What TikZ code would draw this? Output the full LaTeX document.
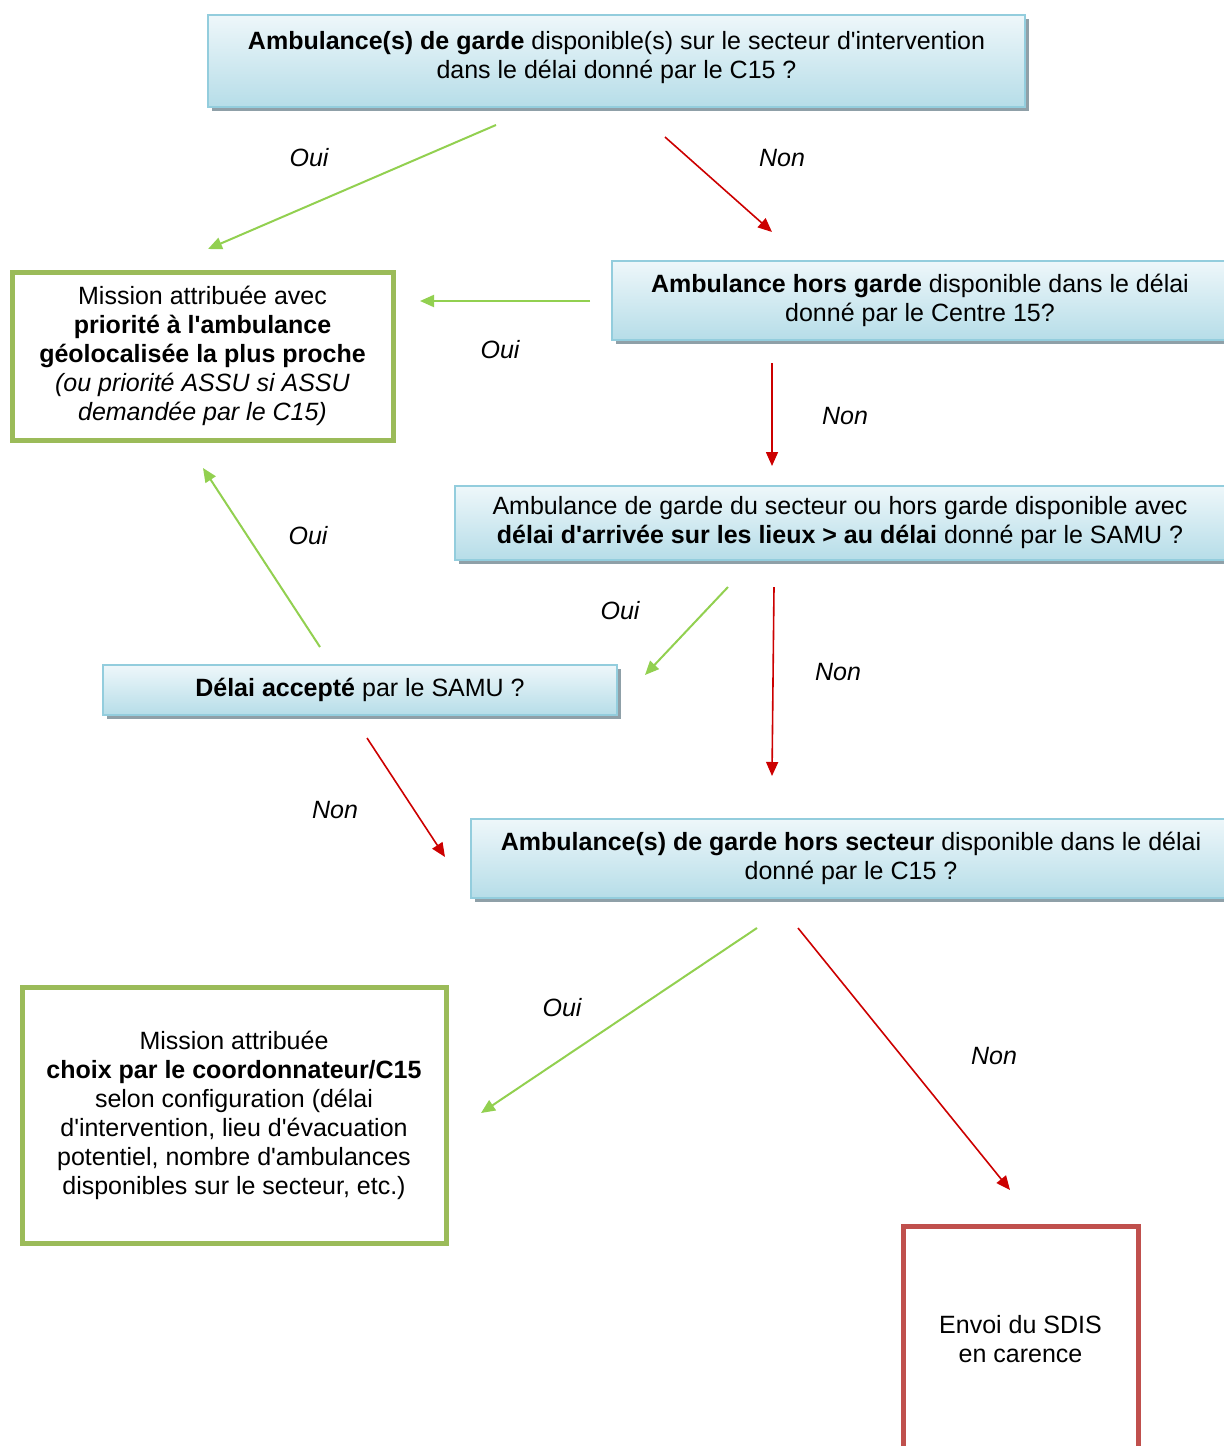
\documentclass[tikz,border=0pt]{standalone}
\usepackage{fontspec}
\setmainfont[Ligatures=TeXOff]{Liberation Sans}
\usetikzlibrary{arrows.meta,shadows}
\definecolor{boxtop}{HTML}{EEF7FA}
\definecolor{boxbot}{HTML}{B6DDE8}
\definecolor{boxline}{HTML}{93CDDD}
\definecolor{boxshadow}{HTML}{8FA0A8}
\definecolor{okgreen}{HTML}{9BBB59}
\definecolor{arrgreen}{HTML}{92D050}
\definecolor{arrred}{HTML}{CC0000}
\definecolor{endred}{HTML}{C0504D}
\begin{document}
\begin{tikzpicture}[x=0.5pt,y=-0.5pt,
  every node/.style={font=\fontsize{12.5}{14.5}\selectfont, align=center, inner sep=0pt},
  qbox/.style={draw=boxline, line width=1pt, top color=boxtop, bottom color=boxbot,
    drop shadow={shadow xshift=2pt, shadow yshift=-2pt, fill=boxshadow, opacity=1}},
  greenbox/.style={draw=okgreen, line width=2.5pt, fill=white},
  redbox/.style={draw=endred, line width=2.5pt, fill=white},
  yesarrow/.style={draw=arrgreen, line width=1pt, -{Triangle[length=7pt,width=6pt]}},
  noarrow/.style={draw=arrred, line width=0.8pt, -{Triangle[length=7pt,width=6pt]}},
  lbl/.style={font=\fontsize{12.5}{14.5}\selectfont\itshape}
]
\useasboundingbox (0,0) rectangle (1224,1446);
\clip (0,0) rectangle (1224,1446);

% boxes
\node[qbox, minimum width=408.5pt, minimum height=46pt, text depth=6.5pt] (b1) at (616.5,61)
  {\textbf{Ambulance(s) de garde} disponible(s) sur le secteur d'intervention\\dans le délai donné par le C15 ?};
\node[qbox, minimum width=308pt, minimum height=39.5pt] (b2) at (920,300.5)
  {\textbf{Ambulance hors garde} disponible dans le délai\\donné par le Centre 15?};
\node[greenbox, minimum width=190.5pt, minimum height=84pt] (g1) at (202.5,356)
  {Mission attribuée avec\\\textbf{priorité à l'ambulance}\\\textbf{géolocalisée la plus proche}\\\textit{(ou priorité ASSU si ASSU}\\\textit{demandée par le C15)}};
\node[qbox, minimum width=385pt, minimum height=37pt] (b3) at (840,523)
  {Ambulance de garde du secteur ou hors garde disponible avec\\\textbf{délai d'arrivée sur les lieux > au délai} donné par le SAMU ?};
\node[qbox, minimum width=257pt, minimum height=25pt] (b4) at (360,690)
  {\textbf{Délai accepté} par le SAMU ?};
\node[qbox, minimum width=380pt, minimum height=39.5pt] (b5) at (851,858.5)
  {\textbf{Ambulance(s) de garde hors secteur} disponible dans le délai\\donné par le C15 ?};
\node[greenbox, minimum width=212pt, minimum height=128pt] (g2) at (234,1115)
  {Mission attribuée\\\textbf{choix par le coordonnateur/C15}\\selon configuration (délai\\d'intervention, lieu d'évacuation\\potentiel, nombre d'ambulances\\disponibles sur le secteur, etc.)};
\node[redbox, minimum width=117.5pt, minimum height=113pt] (r1) at (1020.5,1339)
  {Envoi du SDIS\\en carence};

% arrow end points
\coordinate (a1s) at (496,125);  \coordinate (a1e) at (208,249);
\coordinate (a2s) at (665,137);  \coordinate (a2e) at (772,232);
\coordinate (a3s) at (590,301);  \coordinate (a3e) at (420,301);
\coordinate (a4s) at (772,363);  \coordinate (a4e) at (772,466);
\coordinate (a5s) at (320,647);  \coordinate (a5e) at (203,468);
\coordinate (a6s) at (728,587);  \coordinate (a6e) at (645,675);
\coordinate (a7s) at (774,587);  \coordinate (a7e) at (772,776);
\coordinate (a8s) at (367,738);  \coordinate (a8e) at (445,857);
\coordinate (a9s) at (757,928);  \coordinate (a9e) at (481,1113);
\coordinate (a10s) at (798,928); \coordinate (a10e) at (1010,1190);

\draw[yesarrow] (a1s) -- (a1e);
\draw[noarrow] (a2s) -- (a2e);
\draw[yesarrow] (a3s) -- (a3e);
\draw[noarrow] (a4s) -- (a4e);
\draw[yesarrow] (a5s) -- (a5e);
\draw[yesarrow] (a6s) -- (a6e);
\draw[noarrow] (a7s) -- (a7e);
\draw[noarrow] (a8s) -- (a8e);
\draw[yesarrow] (a9s) -- (a9e);
\draw[noarrow] (a10s) -- (a10e);

% labels
\node[lbl] (l1) at (309,158) {Oui};
\node[lbl] (l2) at (782,158) {Non};
\node[lbl] (l3) at (500,350) {Oui};
\node[lbl] (l4) at (845,416) {Non};
\node[lbl] (l5) at (308,536) {Oui};
\node[lbl] (l6) at (620,611) {Oui};
\node[lbl] (l7) at (838,672) {Non};
\node[lbl] (l8) at (335,810) {Non};
\node[lbl] (l9) at (562,1008) {Oui};
\node[lbl] (l10) at (994,1056) {Non};
\end{tikzpicture}
\end{document}
